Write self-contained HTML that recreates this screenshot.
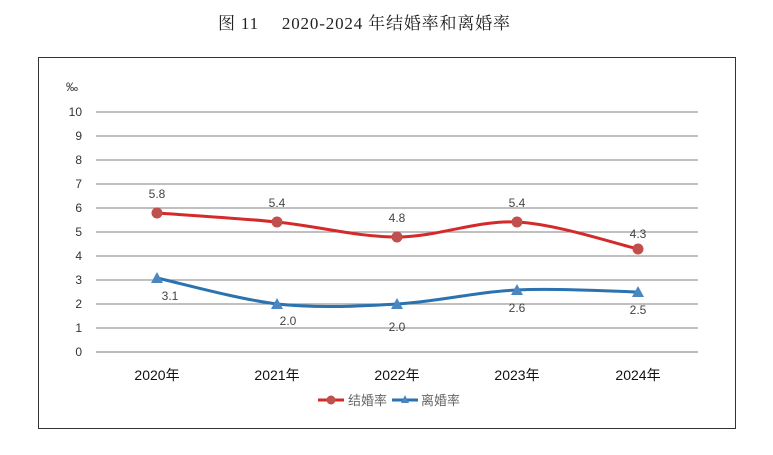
<!DOCTYPE html>
<html><head><meta charset="utf-8"><style>
html,body{margin:0;padding:0;background:#fff;width:773px;height:455px;overflow:hidden}
</style></head><body>
<svg width="773" height="455" xmlns="http://www.w3.org/2000/svg" font-family="'Liberation Sans','Noto Sans CJK SC',sans-serif">
<text x="218" y="29" textLength="292" lengthAdjust="spacing" font-family="'Liberation Serif','Noto Serif CJK SC',serif" font-size="17" fill="#222">图 11　 2020-2024 年结婚率和离婚率</text>
<rect x="38.5" y="57.5" width="697" height="371" fill="#fff" stroke="#333" stroke-width="1"/>
<text x="66" y="91" font-size="12" fill="#333">‰</text>
<g stroke="#9a9a9a" stroke-width="1.2">
<line x1="96" x2="698" y1="112" y2="112"/><line x1="96" x2="698" y1="136" y2="136"/>
<line x1="96" x2="698" y1="160" y2="160"/><line x1="96" x2="698" y1="184" y2="184"/>
<line x1="96" x2="698" y1="208" y2="208"/><line x1="96" x2="698" y1="232" y2="232"/>
<line x1="96" x2="698" y1="256" y2="256"/><line x1="96" x2="698" y1="280" y2="280"/>
<line x1="96" x2="698" y1="304" y2="304"/><line x1="96" x2="698" y1="328" y2="328"/>
<line x1="96" x2="698" y1="352" y2="352" stroke="#bbb" stroke-width="2"/>
</g>
<g font-size="12" fill="#333" text-anchor="end">
<text x="82" y="116">10</text><text x="82" y="140">9</text><text x="82" y="164">8</text><text x="82" y="188">7</text><text x="82" y="212">6</text><text x="82" y="236">5</text><text x="82" y="260">4</text><text x="82" y="284">3</text><text x="82" y="308">2</text><text x="82" y="332">1</text><text x="82" y="356">0</text>
</g>
<g font-size="14" fill="#111" text-anchor="middle">
<text x="157" y="380">2020年</text><text x="277" y="380">2021年</text><text x="397" y="380">2022年</text><text x="517" y="380">2023年</text><text x="638" y="380">2024年</text>
</g>
<path d="M157,213 C177,214.5 237,218 277,222 C317,226 357,237 397,237 C437,237 477,220 517,222 C557,224 618,244.5 638,249" fill="none" stroke="#d42a2a" stroke-width="3"/>
<path d="M157,278 C177,282.3 237,299 277,304 C317,308.3 357,306.3 397,304 C437,301.7 477,291.7 517,290 C557,287.7 618,291.7 638,292" fill="none" stroke="#2a72b0" stroke-width="3"/>
<g fill="#c0504d">
<circle cx="157" cy="213" r="5.5"/><circle cx="277" cy="222" r="5.5"/><circle cx="397" cy="237" r="5.5"/><circle cx="517" cy="222" r="5.5"/><circle cx="638" cy="249" r="5.5"/>
</g>
<g fill="#4a86c0">
<polygon points="157,272 163,283 151,283"/><polygon points="277,298 283,309 271,309"/><polygon points="397,298 403,309 391,309"/><polygon points="517,284 523,295 511,295"/><polygon points="638,286 644,297 632,297"/>
</g>
<g font-size="12" fill="#444" text-anchor="middle">
<text x="157" y="198">5.8</text><text x="277" y="207">5.4</text><text x="397" y="222">4.8</text><text x="517" y="207">5.4</text><text x="638" y="238">4.3</text>
<text x="170" y="300">3.1</text><text x="288" y="325">2.0</text><text x="397" y="331">2.0</text><text x="517" y="312">2.6</text><text x="638" y="314">2.5</text>
</g>
<line x1="318" x2="344" y1="400" y2="400" stroke="#d42a2a" stroke-width="3"/><circle cx="331" cy="400" r="4.5" fill="#c0504d"/>
<text x="348" y="405" font-size="13" fill="#666">结婚率</text>
<line x1="392" x2="418" y1="400" y2="400" stroke="#2a72b0" stroke-width="3"/><polygon points="405,395 409,403 401,403" fill="#4a86c0"/>
<text x="421" y="405" font-size="13" fill="#666">离婚率</text>
</svg>
</body></html>
